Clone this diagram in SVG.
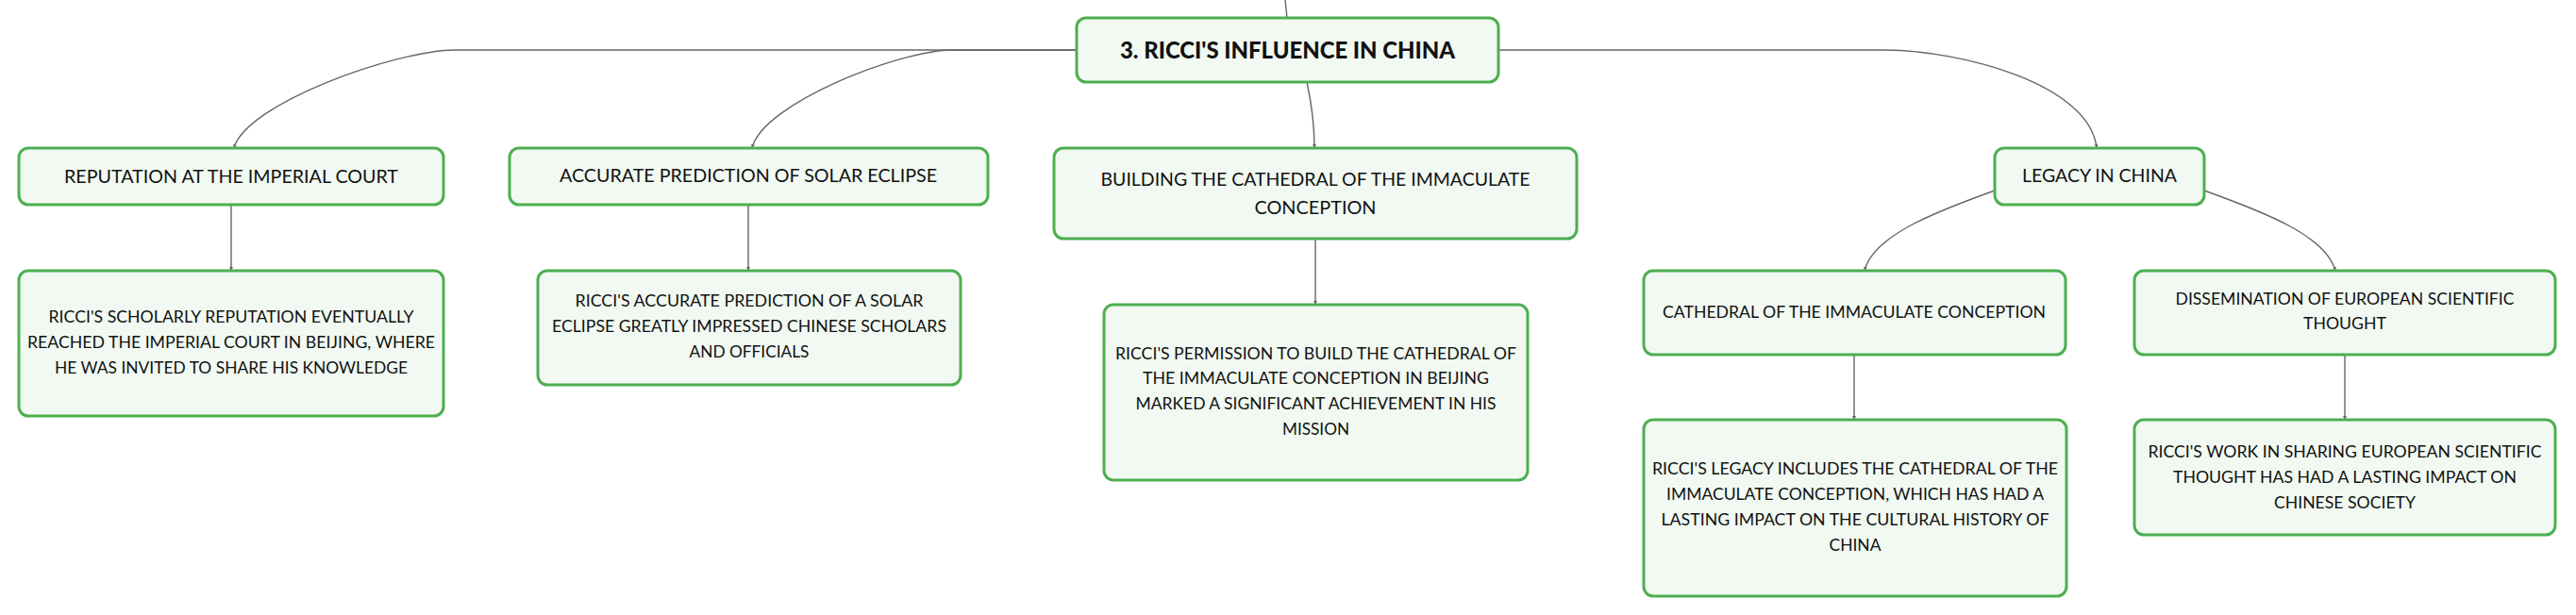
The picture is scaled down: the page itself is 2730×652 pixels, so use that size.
<svg xmlns="http://www.w3.org/2000/svg" width="2730" height="652" viewBox="0 0 2730 652">
<defs>
<style>
.box{fill:#f1f9f2;stroke:#4caf50;stroke-width:3}
.t{font-family:Lato,"Liberation Sans",sans-serif;fill:#111;text-anchor:middle}
.title{font-size:25.5px;font-weight:900}
.l1{font-size:19px}
.l2{font-size:17.5px}
.conn{fill:none;stroke:#666;stroke-width:1.4}
</style>
<marker id="arr" viewBox="0 0 6 6" refX="6" refY="3" markerWidth="4" markerHeight="4" markerUnits="userSpaceOnUse" orient="auto">
<path d="M0,0 L6,3 L0,6 z" fill="#666"/>
</marker>
</defs>
<rect width="2730" height="652" fill="#fff"/>
<g id="connectors">
<path class="conn" d="M1362,0 L1364,19"/>
<path class="conn" marker-end="url(#arr)" d="M1141,53 L483,53 C420,53 260,110 248,157"/>
<path class="conn" marker-end="url(#arr)" d="M1141,53 L1010,53 C953,53 808,110 797,157"/>
<path class="conn" marker-end="url(#arr)" d="M1385,87 C1390,110 1393,130 1393,157"/>
<path class="conn" marker-end="url(#arr)" d="M1588,53 L1996,53 C2080,53 2215,90 2222,157"/>
<path class="conn" marker-end="url(#arr)" d="M245,217 L245,287"/>
<path class="conn" marker-end="url(#arr)" d="M793,217 L793,287"/>
<path class="conn" marker-end="url(#arr)" d="M1394,253 L1394,323"/>
<path class="conn" marker-end="url(#arr)" d="M2114,202 C2050,225 1985,250 1976,287"/>
<path class="conn" marker-end="url(#arr)" d="M2336,202 C2400,225 2465,250 2475,287"/>
<path class="conn" marker-end="url(#arr)" d="M1965,376 L1965,445"/>
<path class="conn" marker-end="url(#arr)" d="M2485,376 L2485,445"/>
</g>
<g id="central">
<rect class="box" x="1141" y="19" width="447" height="68" rx="10"/>
<text class="t title" x="1364.5" y="62" textLength="355" lengthAdjust="spacingAndGlyphs">3. RICCI'S INFLUENCE IN CHINA</text>
</g>
<g id="reputation">
<rect class="box" x="20" y="157" width="450" height="60" rx="10"/>
<text class="t l1" x="245" y="194" textLength="354" lengthAdjust="spacingAndGlyphs">REPUTATION AT THE IMPERIAL COURT</text>
</g>
<g id="accurate">
<rect class="box" x="540" y="157" width="507" height="60" rx="10"/>
<text class="t l1" x="793" y="193" textLength="400" lengthAdjust="spacingAndGlyphs">ACCURATE PREDICTION OF SOLAR ECLIPSE</text>
</g>
<g id="building">
<rect class="box" x="1117" y="157" width="554" height="96" rx="10"/>
<text class="t l1" x="1394" y="197" textLength="455" lengthAdjust="spacingAndGlyphs">BUILDING THE CATHEDRAL OF THE IMMACULATE</text>
<text class="t l1" x="1394" y="227" textLength="129" lengthAdjust="spacingAndGlyphs">CONCEPTION</text>
</g>
<g id="legacy">
<rect class="box" x="2114" y="157" width="222" height="60" rx="10"/>
<text class="t l1" x="2225" y="193" textLength="164" lengthAdjust="spacingAndGlyphs">LEGACY IN CHINA</text>
</g>
<g id="cathedral">
<rect class="box" x="1742" y="287" width="447" height="89" rx="10"/>
<text class="t l2" x="1965" y="337" textLength="406" lengthAdjust="spacingAndGlyphs">CATHEDRAL OF THE IMMACULATE CONCEPTION</text>
</g>
<g id="dissemination">
<rect class="box" x="2262" y="287" width="446" height="89" rx="10"/>
<text class="t l2" x="2485" y="323" textLength="359" lengthAdjust="spacingAndGlyphs">DISSEMINATION OF EUROPEAN SCIENTIFIC</text>
<text class="t l2" x="2485" y="349" textLength="88" lengthAdjust="spacingAndGlyphs">THOUGHT</text>
</g>
<g id="detail-reputation">
<rect class="box" x="20" y="287" width="450" height="154" rx="10"/>
<text class="t l2" x="245" y="342" textLength="387" lengthAdjust="spacingAndGlyphs">RICCI'S SCHOLARLY REPUTATION EVENTUALLY</text>
<text class="t l2" x="245" y="369" textLength="432" lengthAdjust="spacingAndGlyphs">REACHED THE IMPERIAL COURT IN BEIJING, WHERE</text>
<text class="t l2" x="245" y="396" textLength="374" lengthAdjust="spacingAndGlyphs">HE WAS INVITED TO SHARE HIS KNOWLEDGE</text>
</g>
<g id="detail-accurate">
<rect class="box" x="570" y="287" width="448" height="121" rx="10"/>
<text class="t l2" x="794" y="325" textLength="369" lengthAdjust="spacingAndGlyphs">RICCI'S ACCURATE PREDICTION OF A SOLAR</text>
<text class="t l2" x="794" y="352" textLength="418" lengthAdjust="spacingAndGlyphs">ECLIPSE GREATLY IMPRESSED CHINESE SCHOLARS</text>
<text class="t l2" x="794" y="379" textLength="127" lengthAdjust="spacingAndGlyphs">AND OFFICIALS</text>
</g>
<g id="detail-building">
<rect class="box" x="1170" y="323" width="449" height="186" rx="10"/>
<text class="t l2" x="1394.5" y="381" textLength="425" lengthAdjust="spacingAndGlyphs">RICCI'S PERMISSION TO BUILD THE CATHEDRAL OF</text>
<text class="t l2" x="1394.5" y="407" textLength="367" lengthAdjust="spacingAndGlyphs">THE IMMACULATE CONCEPTION IN BEIJING</text>
<text class="t l2" x="1394.5" y="434" textLength="382" lengthAdjust="spacingAndGlyphs">MARKED A SIGNIFICANT ACHIEVEMENT IN HIS</text>
<text class="t l2" x="1394.5" y="461" textLength="71" lengthAdjust="spacingAndGlyphs">MISSION</text>
</g>
<g id="detail-cathedral">
<rect class="box" x="1742" y="445" width="448" height="187" rx="10"/>
<text class="t l2" x="1966" y="503" textLength="430" lengthAdjust="spacingAndGlyphs">RICCI'S LEGACY INCLUDES THE CATHEDRAL OF THE</text>
<text class="t l2" x="1966" y="530" textLength="400" lengthAdjust="spacingAndGlyphs">IMMACULATE CONCEPTION, WHICH HAS HAD A</text>
<text class="t l2" x="1966" y="557" textLength="411" lengthAdjust="spacingAndGlyphs">LASTING IMPACT ON THE CULTURAL HISTORY OF</text>
<text class="t l2" x="1966" y="584" textLength="55" lengthAdjust="spacingAndGlyphs">CHINA</text>
</g>
<g id="detail-dissemination">
<rect class="box" x="2262" y="445" width="446" height="122" rx="10"/>
<text class="t l2" x="2485" y="485" textLength="417" lengthAdjust="spacingAndGlyphs">RICCI'S WORK IN SHARING EUROPEAN SCIENTIFIC</text>
<text class="t l2" x="2485" y="512" textLength="364" lengthAdjust="spacingAndGlyphs">THOUGHT HAS HAD A LASTING IMPACT ON</text>
<text class="t l2" x="2485" y="539" textLength="150" lengthAdjust="spacingAndGlyphs">CHINESE SOCIETY</text>
</g>
</svg>
